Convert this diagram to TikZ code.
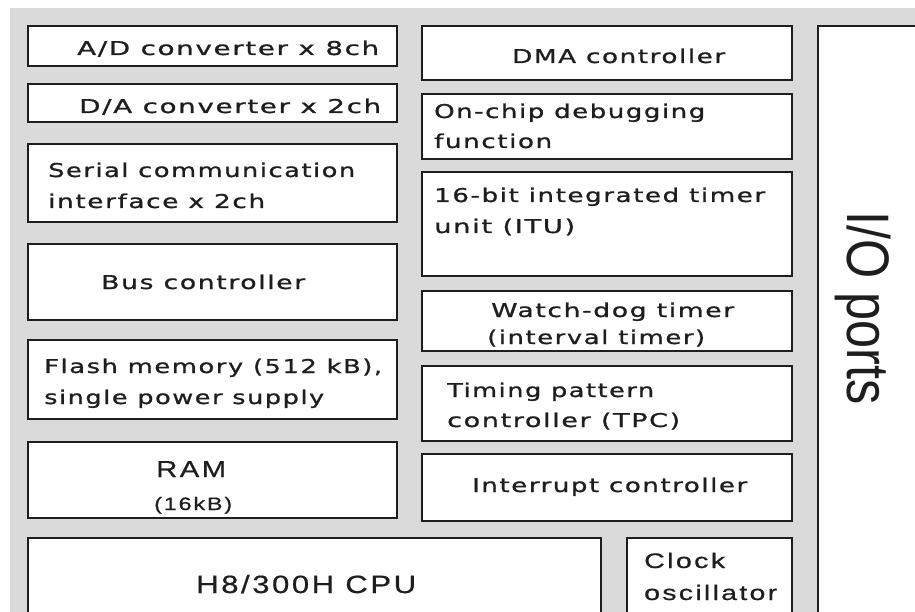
\documentclass[tikz,border=0pt]{standalone}
\usepackage{fontspec}
\newfontfamily\jpf[FakeStretch=1.36,LetterSpace=8,FakeBold=1]{DejaVu Sans}
\newfontfamily\arf[FakeStretch=1.25,LetterSpace=10,FakeBold=0.6]{Liberation Sans}
\newfontfamily\iof{Liberation Sans}
\newcommand{\fitw}[2]{\resizebox{#1pt}{\height}{#2}}
\definecolor{bg}{HTML}{DADADA}
\definecolor{ln}{HTML}{1E1E1E}
\tikzset{
  box/.style={draw=ln, line width=2.2pt, fill=white, inner sep=0pt, outer sep=0pt, anchor=north west},
  lbl/.style={inner sep=0pt, anchor=base west, text=ln, font=\jpf\fontsize{19}{21}\selectfont},
  albl/.style={inner sep=0pt, anchor=base west, text=ln},
}
\begin{document}
\begin{tikzpicture}[x=1pt,y=-1pt]
\useasboundingbox (0,0) rectangle (915,612);
\clip (0,0) rectangle (915,612);
\fill[white] (0,0) rectangle (915,612);
\fill[bg] (10,8) rectangle (940,640);
% left column
\node[box, minimum width=369pt, minimum height=40pt] (ad) at (28,26) {};
\node[box, minimum width=369pt, minimum height=38pt] (da) at (28,84) {};
\node[box, minimum width=369pt, minimum height=78pt] (sci) at (28,144) {};
\node[box, minimum width=369pt, minimum height=76pt] (bus) at (28,244) {};
\node[box, minimum width=369pt, minimum height=79pt] (flash) at (28,340) {};
\node[box, minimum width=369pt, minimum height=76pt] (ram) at (28,442) {};
\node[box, minimum width=573pt, minimum height=120pt] (cpu) at (28,538) {};
% right column
\node[box, minimum width=370pt, minimum height=54pt] (dma) at (422,26) {};
\node[box, minimum width=370pt, minimum height=65pt] (dbg) at (422,94) {};
\node[box, minimum width=370pt, minimum height=104pt] (itu) at (422,172) {};
\node[box, minimum width=370pt, minimum height=60pt] (wdt) at (422,291) {};
\node[box, minimum width=370pt, minimum height=75pt] (tpc) at (422,366) {};
\node[box, minimum width=370pt, minimum height=67pt] (int) at (422,454) {};
\node[box, minimum width=165pt, minimum height=120pt] (clk) at (627,538) {};
\node[box, minimum width=140pt, minimum height=640pt] (io) at (818,26) {};
% labels
\node[lbl] (tad) at (77,55) {\fitw{302}{A/D converter x 8ch}};
\node[lbl] (tda) at (79,113) {\fitw{302}{D/A converter x 2ch}};
\node[lbl] (tsci1) at (48,177) {\fitw{307}{Serial communication}};
\node[lbl] (tsci2) at (48,208) {\fitw{217}{interface x 2ch}};
\node[lbl] (tbus) at (101,289) {\fitw{204}{Bus controller}};
\node[lbl] (tfl1) at (44,373) {\fitw{338}{Flash memory (512 kB),}};
\node[lbl] (tfl2) at (44,404) {\fitw{280}{single power supply}};
\node[albl, font=\arf\fontsize{23}{25}\selectfont] (tram1) at (156,477) {\fitw{70}{RAM}};
\node[albl, font=\arf\fontsize{18}{20}\selectfont] (tram2) at (154,510) {\fitw{78}{(16kB)}};
\node[albl, font=\arf\fontsize{25}{27}\selectfont] (tcpu) at (196,593) {\fitw{220}{H8/300H CPU}};
\node[lbl] (tdma) at (512,63) {\fitw{213}{DMA controller}};
\node[lbl] (tdbg1) at (434,118) {\fitw{271}{On-chip debugging}};
\node[lbl] (tdbg2) at (434,148) {\fitw{118}{function}};
\node[lbl] (titu1) at (434,202) {\fitw{331}{16-bit integrated timer}};
\node[lbl] (titu2) at (434,233) {\fitw{141}{unit (ITU)}};
\node[lbl] (twdt1) at (491,317) {\fitw{243}{Watch-dog timer}};
\node[lbl] (twdt2) at (487,344) {\fitw{218}{(interval timer)}};
\node[lbl] (ttpc1) at (447,397) {\fitw{207}{Timing pattern}};
\node[lbl] (ttpc2) at (447,427) {\fitw{233}{controller (TPC)}};
\node[lbl] (tint) at (472,492) {\fitw{275}{Interrupt controller}};
\node[albl, font=\arf\fontsize{21}{23}\selectfont] (tclk1) at (644,568) {\fitw{81}{Clock}};
\node[albl, font=\arf\fontsize{21}{23}\selectfont] (tclk2) at (644,600) {\fitw{133}{oscillator}};
\node[albl, rotate=-90] (tio) at (847,211) {\scalebox{0.84}[1]{\iof\fontsize{60}{62}\selectfont I/O ports}};
\end{tikzpicture}
\end{document}
